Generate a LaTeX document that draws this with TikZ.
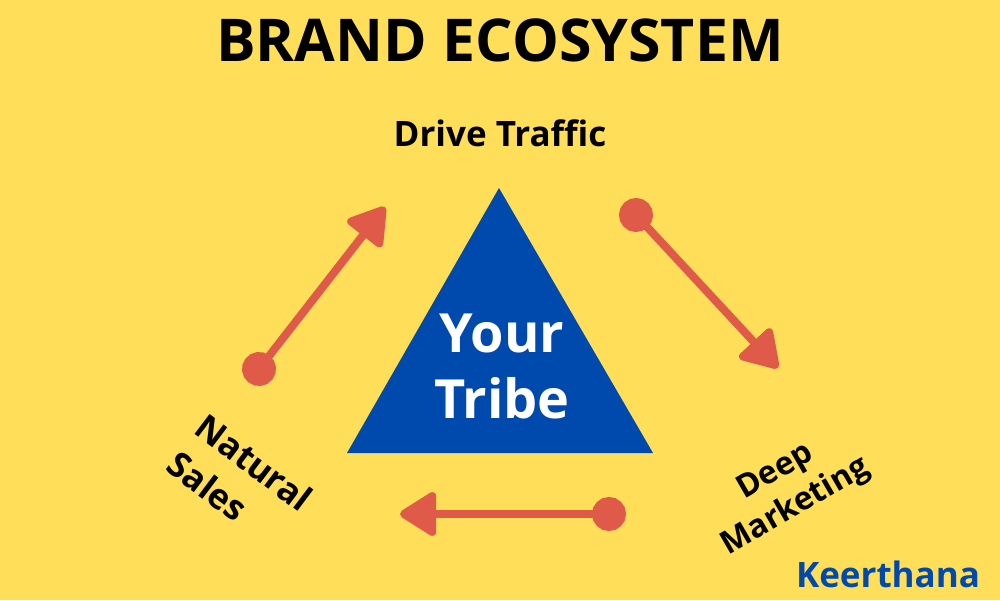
\documentclass[tikz,border=0pt]{standalone}
\usepackage{fontspec}
\setmainfont{Open Sans}
\usetikzlibrary{arrows.meta}
\definecolor{bgyellow}{RGB}{255,222,89}
\definecolor{tribeblue}{RGB}{0,74,173}
\definecolor{arrowred}{RGB}{224,90,74}
\tikzset{
  label/.style={font=\bfseries\fontsize{35}{40}\selectfont, align=center, text=black},
  cycle/.style={line width=8pt, arrowred,
    {Circle[length=34pt]}-{Triangle[length=40pt,width=48pt,round]}, shorten <=-17pt},
}
\begin{document}
\begin{tikzpicture}[x=1pt,y=-1pt]
                \fill[bgyellow] (0,0) rectangle (1000,600);
                \coordinate (T) at (499,188);
                \coordinate (L) at (347,453);
                \coordinate (R) at (653,453);
                \fill[tribeblue] (T) -- (L) -- (R) -- cycle;
                \node[font=\bfseries\fontsize{59}{64}\selectfont] (title) at (500,40) {BRAND ECOSYSTEM};
                \node[label] (drive) at (500,133) {Drive Traffic};
                \node[label, rotate=-37, align=left, font=\bfseries\fontsize{35}{47}\selectfont] (natural) at (240,481) {Natural\\Sales};
                \node[label, rotate=30, font=\bfseries\fontsize{32}{40}\selectfont] (deep) at (786,490) {Deep\\Marketing};
                \node[font=\bfseries\fontsize{54}{66}\selectfont, text=white, align=center] (tribe) at (502,366) {Your\\Tribe};
                \node[label, text=tribeblue] (author) at (888,574) {Keerthana};
                \coordinate (a1) at (259,369);
                \coordinate (b1) at (385,207);
                \coordinate (a2) at (636,215);
                \coordinate (b2) at (778,368);
                \coordinate (a3) at (609,514);
                \coordinate (b3) at (400,514);
                \draw[cycle] (a1) -- (b1);
                \draw[cycle] (a2) -- (b2);
                \draw[cycle] (a3) -- (b3);
            \end{tikzpicture}
\end{document}
